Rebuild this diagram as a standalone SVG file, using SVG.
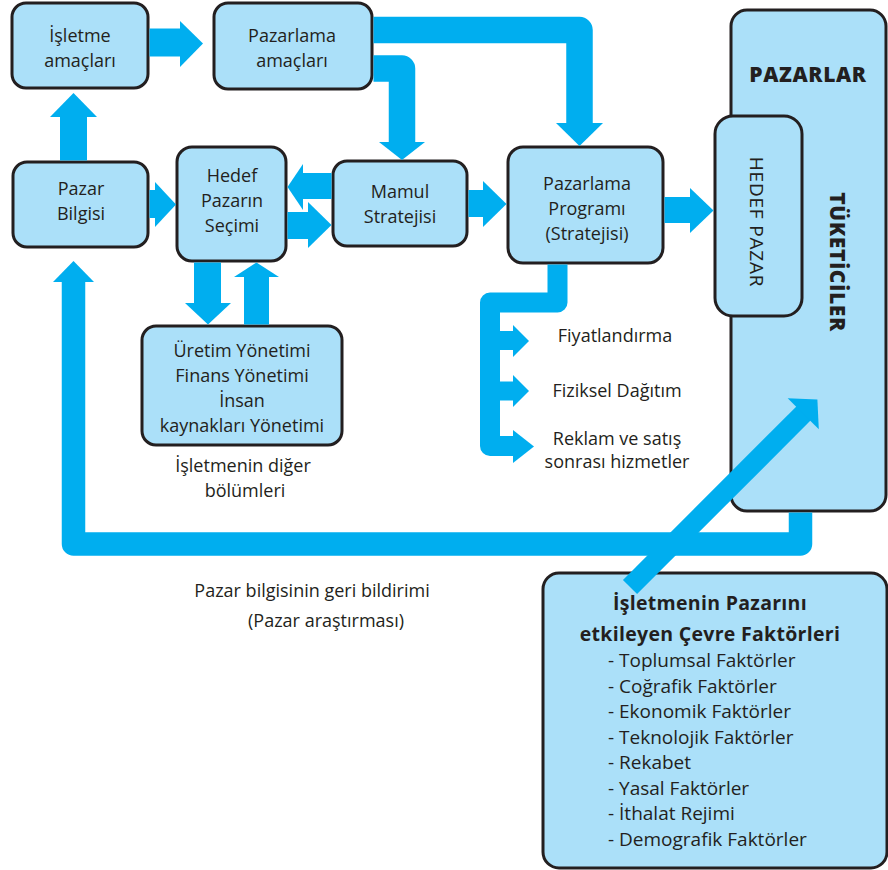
<svg xmlns="http://www.w3.org/2000/svg" width="888" height="870" viewBox="0 0 888 870">
  <style>
    .box { fill: #abe0f9; stroke: #231f20; stroke-width: 3; }
    .t { font-family: "Open Sans", "Noto Sans", sans-serif; font-size: 18px; fill: #231f20; text-anchor: middle; }
    .tl { font-family: "Open Sans", "Noto Sans", sans-serif; font-size: 19px; fill: #231f20; }
    .b { font-weight: bold; font-size: 19.5px; letter-spacing: 0.3px; }
    .big { font-family: "Open Sans", "Noto Sans", sans-serif; font-size: 21px; font-weight: 800; fill: #231f20; letter-spacing: 0.6px; }
    .shaft { fill: none; stroke: #00aeef; stroke-linejoin: round; stroke-linecap: butt; }
    .head { fill: #00aeef; }
  </style>

  <!-- Nodes -->
  <g id="isletme-amaclari">
    <rect class="box" x="12" y="3" width="136" height="85" rx="14"/>
    <text class="t" x="80" y="42">İşletme</text>
    <text class="t" x="80" y="67">amaçları</text>
  </g>
  <g id="pazarlama-amaclari">
    <rect class="box" x="214" y="3" width="158" height="86" rx="14"/>
    <text class="t" x="292" y="42">Pazarlama</text>
    <text class="t" x="292" y="67">amaçları</text>
  </g>
  <g id="pazar-bilgisi">
    <rect class="box" x="13" y="162" width="135" height="85" rx="14"/>
    <text class="t" x="81" y="195">Pazar</text>
    <text class="t" x="81" y="220">Bilgisi</text>
  </g>
  <g id="hedef-pazarin-secimi">
    <rect class="box" x="177" y="147" width="109" height="114" rx="15"/>
    <text class="t" x="232" y="182">Hedef</text>
    <text class="t" x="232" y="207">Pazarın</text>
    <text class="t" x="232" y="232">Seçimi</text>
  </g>
  <g id="mamul-stratejisi">
    <rect class="box" x="333" y="161" width="134" height="85" rx="14"/>
    <text class="t" x="400" y="198">Mamul</text>
    <text class="t" x="400" y="223">Stratejisi</text>
  </g>
  <g id="pazarlama-programi">
    <rect class="box" x="508" y="147" width="155" height="116" rx="15"/>
    <text class="t" x="587" y="190">Pazarlama</text>
    <text class="t" x="587" y="215">Programı</text>
    <text class="t" x="587" y="240">(Stratejisi)</text>
  </g>
  <g id="diger-bolumler">
    <rect class="box" x="142" y="326" width="200" height="119" rx="14"/>
    <text class="t" x="242" y="357">Üretim Yönetimi</text>
    <text class="t" x="242" y="382">Finans Yönetimi</text>
    <text class="t" x="242" y="407">İnsan</text>
    <text class="t" x="242" y="432">kaynakları Yönetimi</text>
    <text class="t" x="243" y="472">İşletmenin diğer</text>
    <text class="t" x="245" y="497">bölümleri</text>
  </g>
  <g id="pazarlar">
    <rect class="box" x="731" y="10" width="155" height="501" rx="16"/>
    <text class="big" x="808" y="82" text-anchor="middle">PAZARLAR</text>
    <text class="big" transform="translate(830 262) rotate(90)" text-anchor="middle">TÜKETİCİLER</text>
  </g>
  <g id="hedef-pazar">
    <rect class="box" x="715" y="116" width="87" height="200" rx="18"/>
    <text class="t" transform="translate(750 222) rotate(90)" style="font-size:19px;letter-spacing:0.8px">HEDEF PAZAR</text>
  </g>
  <g id="cevre-faktorleri">
    <rect class="box" x="543" y="573" width="344" height="295" rx="16"/>
    <text class="t b" x="710" y="610">İşletmenin Pazarını</text>
    <text class="t b" x="710" y="641">etkileyen Çevre Faktörleri</text>
    <text class="tl" x="608" y="667">- Toplumsal Faktörler</text>
    <text class="tl" x="608" y="692.5">- Coğrafik Faktörler</text>
    <text class="tl" x="608" y="718">- Ekonomik Faktörler</text>
    <text class="tl" x="608" y="743.5">- Teknolojik Faktörler</text>
    <text class="tl" x="608" y="769">- Rekabet</text>
    <text class="tl" x="608" y="794.5">- Yasal Faktörler</text>
    <text class="tl" x="608" y="820">- İthalat Rejimi</text>
    <text class="tl" x="608" y="845.5">- Demografik Faktörler</text>
  </g>
  <g id="pazarlama-karmasi">
    <text class="t" x="615" y="342">Fiyatlandırma</text>
    <text class="t" x="617" y="397">Fiziksel Dağıtım</text>
    <text class="t" x="617" y="445">Reklam ve satış</text>
    <text class="t" x="617" y="468">sonrası hizmetler</text>
  </g>
  <g id="geri-bildirim">
    <text class="t" x="312" y="597">Pazar bilgisinin geri bildirimi</text>
    <text class="t" x="326" y="627">(Pazar araştırması)</text>
  </g>

  <!-- Connectors -->
  <g id="connectors">
    <!-- İşletme amaçları -> Pazarlama amaçları -->
    <path class="shaft" d="M149.5 42.5 H181" stroke-width="28"/>
    <polygon class="head" points="180,21 180,67 203,43.5"/>
    <!-- Pazar Bilgisi -> İşletme amaçları -->
    <path class="shaft" d="M73.5 160.5 V116" stroke-width="27"/>
    <polygon class="head" points="50,117 97,117 73.5,93"/>
    <!-- Pazarlama amaçları -> Pazarlama Programı -->
    <path class="shaft" d="M373.5 30 H579.5 V124" stroke-width="26.5"/>
    <polygon class="head" points="556,123 603,123 579.5,146"/>
    <!-- Pazarlama amaçları -> Mamul Stratejisi -->
    <path class="shaft" d="M373.5 68.5 H402 V143" stroke-width="26.5"/>
    <polygon class="head" points="379,142 425,142 402,160"/>
    <!-- Pazar Bilgisi -> Hedef Pazarın Seçimi -->
    <path class="shaft" d="M149.5 204 H156" stroke-width="28"/>
    <polygon class="head" points="155,182 155,227 176,204.5"/>
    <!-- Mamul Stratejisi -> Hedef Pazarın Seçimi -->
    <path class="shaft" d="M331.5 186 H302" stroke-width="26"/>
    <polygon class="head" points="303,164 303,210 287.5,187"/>
    <!-- Hedef Pazarın Seçimi -> Mamul Stratejisi -->
    <path class="shaft" d="M287.5 225.5 H309" stroke-width="27"/>
    <polygon class="head" points="308,202 308,248 331.5,225"/>
    <!-- Mamul Stratejisi -> Pazarlama Programı -->
    <path class="shaft" d="M468.5 203.5 H484" stroke-width="27"/>
    <polygon class="head" points="483,181 483,227 506.5,204"/>
    <!-- Pazarlama Programı -> Hedef Pazar -->
    <path class="shaft" d="M664.5 210 H691" stroke-width="26"/>
    <polygon class="head" points="690,188 690,233 713.5,210.5"/>
    <!-- Hedef Pazarın Seçimi <-> diğer bölümler -->
    <path class="shaft" d="M207.5 262.5 V304" stroke-width="27"/>
    <polygon class="head" points="185,303 231,303 208,324.5"/>
    <path class="shaft" d="M256.5 324.5 V276" stroke-width="25"/>
    <polygon class="head" points="234,277 279,277 256.5,262.5"/>
    <!-- Pazarlama Programı -> karma elemanları -->
    <path class="shaft" d="M557.5 264.5 V302.5 H490 V446 H514" stroke-width="20"/>
    <path class="shaft" d="M495 340.5 H514" stroke-width="19"/>
    <path class="shaft" d="M495 391 H514" stroke-width="19"/>
    <polygon class="head" points="513,325 513,357 529,341"/>
    <polygon class="head" points="513,375 513,407 529,391"/>
    <polygon class="head" points="513,430 513,463 534,446.5"/>
    <!-- Pazar bilgisinin geri bildirimi -->
    <path class="shaft" d="M800.5 512.5 V544 H73.5 V281" stroke-width="23.5"/>
    <polygon class="head" points="53,282 94,282 73.5,261"/>
    <!-- Çevre faktörleri -> Pazarlar -->
    <g transform="translate(630 587) rotate(-45)">
      <rect class="head" x="0" y="-10" width="246" height="20"/>
      <polygon class="head" points="245,-22 245,22 265,0"/>
    </g>
  </g>
</svg>
